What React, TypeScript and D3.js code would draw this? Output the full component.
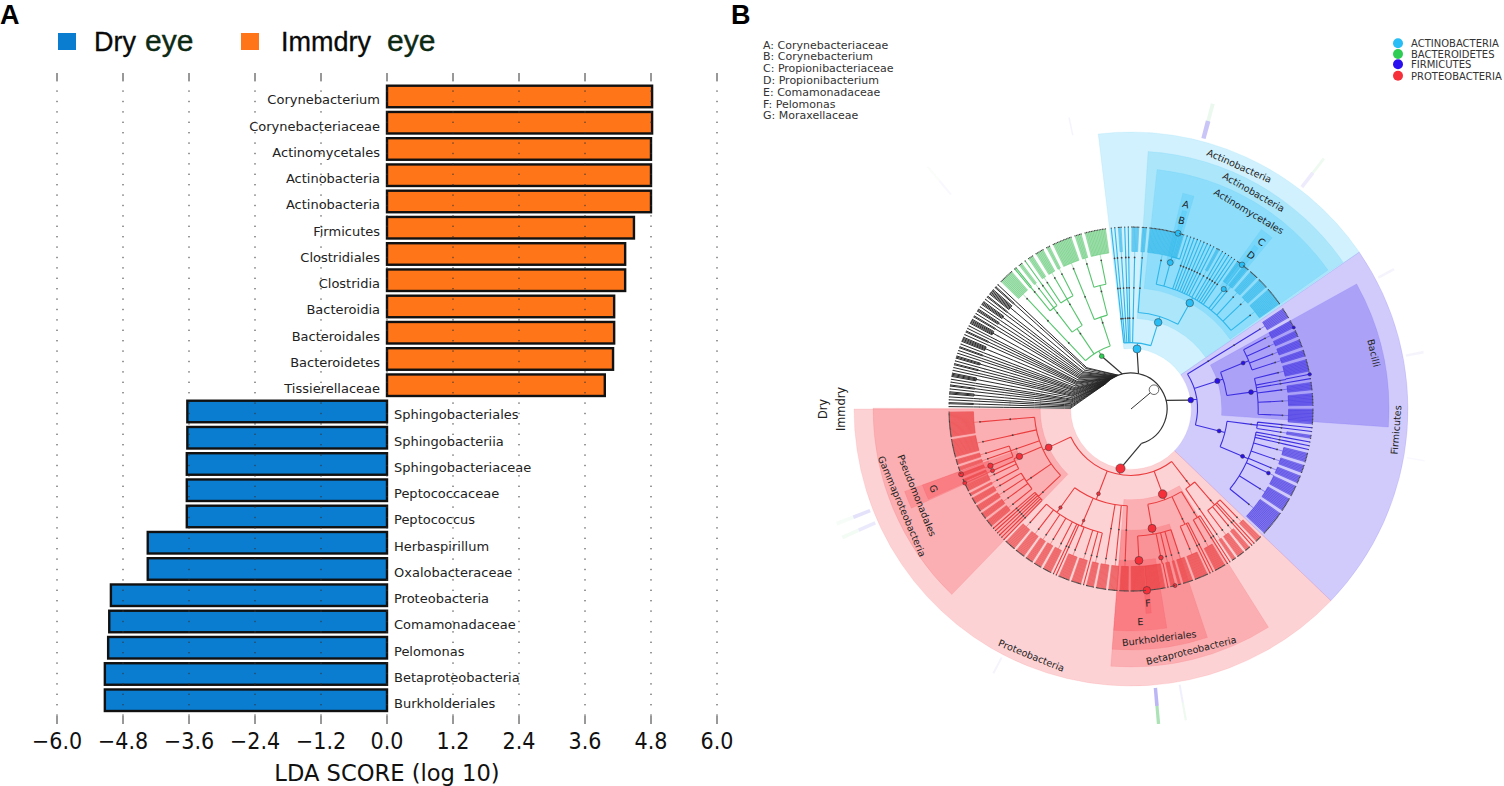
import React, { useEffect, useRef } from 'react';
import * as d3 from 'd3';

// Panel A: LDA scores, top to bottom
const taxa = [
  'Corynebacterium', 'Corynebacteriaceae', 'Actinomycetales', 'Actinobacteria', 'Actinobacteria',
  'Firmicutes', 'Clostridiales', 'Clostridia', 'Bacteroidia', 'Bacteroidales', 'Bacteroidetes',
  'Tissierellaceae', 'Sphingobacteriales', 'Sphingobacteriia', 'Sphingobacteriaceae', 'Peptococcaceae',
  'Peptococcus', 'Herbaspirillum', 'Oxalobacteraceae', 'Proteobacteria', 'Comamonadaceae', 'Pelomonas',
  'Betaproteobacteria', 'Burkholderiales',
];
const ldaScores = [
  4.82, 4.82, 4.8, 4.8, 4.8, 4.49, 4.33, 4.33, 4.13, 4.13, 4.11, 3.96,
  -3.63, -3.63, -3.64, -3.64, -3.64, -4.35, -4.35, -5.02, -5.05, -5.07, -5.13, -5.13,
];
const ldaTicks = [-6, -4.8, -3.6, -2.4, -1.2, 0, 1.2, 2.4, 3.6, 4.8, 6];

const cladeKey = [
  'A: Corynebacteriaceae', 'B: Corynebacterium', 'C: Propionibacteriaceae', 'D: Propionibacterium',
  'E: Comamonadaceae', 'F: Pelomonas', 'G: Moraxellaceae',
];
const phylumKey = ['ACTINOBACTERIA', 'BACTEROIDETES', 'FIRMICUTES', 'PROTEOBACTERIA'];
const phylumColors = ['#29bdf5', '#2ecc52', '#2a10ee', '#f5303a'];
const lineColors: Record<string, string> = { act: '#2fb6ea', bac: '#58c56e', fir: '#3d2ee0', pro: '#ea3d3f', none: '#2a2a2a' };

// Panel B: cladogram shape. An array is a branching node, a number is a family with that many genera.
const blackTree = [1, 2, 1, 1, 3, 1, 2, 1, 1, 4, 1, 1, 2, 1, 3, 1, 1, 2, 1, 5, 1, 2, 1, 1, 5, 2, 1, 3, 1, 4, 1, 2, 6, 2, 1];
const bacTree = [[[10]], [[2, 3, 1], [4, 6, 3]], [[13], [5, 14]]];
const actTree = [1, 1, 3, 1, 1, 6, [[4], [26, 1, 1, 1, 1, 1, 1, 1, 1, 1, 3, 1, 1, 1, 1, 1, 4, 5, 7, 8, 14]]];
const firTree = [
  [[8]],
  [[6, 5, 6, 5], [9, 1, 1, 6, 9, 11]],
  [[1, 1, 3], [1, 1, 1, 7, 6, 6, 8, 10, 18]],
];
const proTree = [
  [[6, 1, 1, 5, 7], [4]],
  [[1, 1, 10], [1, 1, 12], [9, 3, 5, 1, 30]],
  [[8], [8], [9], [7, 1, 9], [10, 1, 1, 8, 7, 7, 9, 10]],
  [[1, 1, 1, 1, 1, 1], [7, 6, 6, 6], [3, 7, 3], [4, 4, 5], [16], [22]],
];

const phylumSpans = [
  { key: 'none', tree: blackTree, start: 270.3, end: 313.5 },
  { key: 'bac', tree: bacTree, start: 313.8, end: 352.6 },
  { key: 'act', tree: actTree, start: 353.2, end: 415.2 },
  { key: 'fir', tree: firTree, start: 416, end: 493.5 },
  { key: 'pro', tree: proTree, start: 494.2, end: 629.5 },
];

// Biomarkers: phylum, tree level (1 phylum .. 5 genus), angle in degrees, dot size
const markers: [string, number, number, number][] = [
  ['act', 1, 365.7, 4], ['act', 2, 377.4, 3.8], ['act', 3, 389, 3.8], ['act', 4, 375, 3], ['act', 5, 375, 3],
  ['act', 4, 397.7, 2.6], ['act', 5, 397.6, 2.8],
  ['bac', 1, 331, 2.4],
  ['fir', 1, 441.5, 2.8], ['fir', 2, 432, 2.6], ['fir', 2, 464, 2], ['fir', 3, 427.7, 2], ['fir', 3, 442, 2.4],
  ['fir', 3, 473, 2], ['fir', 4, 475, 1.9], ['fir', 5, 423.4, 1.6], ['fir', 5, 439, 1.8],
  ['pro', 1, 550, 4.6], ['pro', 2, 605, 3.4], ['pro', 2, 519.6, 4.3], ['pro', 2, 561, 1.9], ['pro', 3, 530, 4],
  ['pro', 3, 575.6, 1.7], ['pro', 3, 563, 1.3], ['pro', 3, 607, 3.2], ['pro', 4, 537, 4], ['pro', 4, 528.6, 2.3],
  ['pro', 4, 608, 2.7], ['pro', 4, 606, 2], ['pro', 5, 535, 3.8], ['pro', 5, 526, 2], ['pro', 5, 609, 2.5], ['pro', 5, 606, 2],
];

// Shaded clades: phylum, tree level, start and end angle
const cladeWedges: [string, number, number, number][] = [
  ['act', 1, -6.8, 55.5], ['fir', 1, 55.5, 133.8], ['pro', 1, 133.8, 270],
  ['act', 2, 3.8, 55.3], ['fir', 2, 61, 94], ['pro', 2, 224, 270.2], ['pro', 2, 147.8, 184.5],
  ['act', 3, 6.2, 54.8], ['pro', 3, 245.7, 250], ['pro', 3, 161.5, 184.5],
  ['act', 4, 13.5, 16.5], ['act', 4, 36, 39.5], ['pro', 4, 246, 250], ['pro', 4, 170.7, 184.5],
  ['act', 5, 14.5, 15.8], ['act', 5, 37, 38.4], ['pro', 5, 174.3, 175.8],
];

// Rotated clade names: text, angle, radius
const cladeLabels: [string, number, number][] = [
  ['Actinobacteria', 24, 266], ['Actinobacteria', 29.5, 249], ['Actinomycetales', 30.8, 230],
  ['A', 15, 212], ['B', 15, 195], ['C', 38, 212], ['D', 38, 195],
  ['Bacilli', 77, 249], ['Firmicutes', 94.5, 266],
  ['Proteobacteria', 202, 266], ['Betaproteobacteria', 166, 249], ['Burkholderiales', 173, 231],
  ['E', 177.5, 213], ['F', 175, 195], ['G', 248, 213],
  ['Pseudomonadales', 248, 231], ['Gammaproteobacteria', 247, 249],
];

// Faint outer ring marks: angle, ring, width in degrees, phylum colour, opacity
const ringMarks: [number, number, number, string, number][] = [
  [15, 0, 0.9, 'fir', 0.28], [15, 1, 0.7, 'bac', 0.12], [37.6, 0, 0.7, 'fir', 0.09], [37.6, 1, 0.5, 'bac', 0.1],
  [248.7, 0, 0.7, 'fir', 0.14], [246, 0, 0.7, 'fir', 0.1], [248.7, 1, 0.7, 'bac', 0.05], [246, 1, 0.7, 'bac', 0.07],
  [175, 0, 0.7, 'fir', 0.35], [175, 1, 0.6, 'bac', 0.5], [170, 0, 0.4, 'fir', 0.08], [170, 1, 0.4, 'bac', 0.1],
  [207.5, 0, 0.4, 'fir', 0.05], [-12, 0, 0.3, 'fir', 0.05], [320, 0, 0.4, 'fir', 0.03], [320, 1, 0.4, 'bac', 0.03],
  [62, 0, 0.5, 'fir', 0.05], [79, 0, 0.5, 'fir', 0.05], [100, 0, 0.3, 'fir', 0.03],
];

const rad = Math.PI / 180;
const LEVEL_R = d3.scaleLinear().domain([0, 5]).range([30, 182]);
const WEDGE_OUTER = [0, 277, 258, 241, 222, 205];
const BRACKET = 6;

type Branch = { depth: number; children?: Branch[] };

function grow(spec: any, depth: number): Branch {
  if (Array.isArray(spec)) return { depth, children: spec.map(s => grow(s, depth + 1)) };
  if (depth < 4) return { depth, children: [grow(spec, depth + 1)] };
  return { depth, children: d3.range(spec).map(() => ({ depth: 5 })) };
}

const App: React.FC = () => {
  const svgRef = useRef<SVGSVGElement>(null);

  useEffect(() => {
    if (!svgRef.current) return;
    const svg = d3.select(svgRef.current);
    svg.selectAll('*').remove();
    const sans = 'DejaVu Sans';
    const arial = 'Liberation Sans';

    // ---- panel letters
    svg.append('text').attr('x', 0).attr('y', 24).text('A').attr('font-family', arial).attr('font-weight', 700).attr('font-size', 27);
    svg.append('text').attr('x', 731).attr('y', 24).text('B').attr('font-family', arial).attr('font-weight', 700).attr('font-size', 27);

    // ---- panel A legend
    const legend = [
      { name: 'Dry', color: '#0a7dd1', sq: 58, tx: 94, ex: 145 },
      { name: 'Immdry', color: '#ff7518', sq: 241, tx: 281, ex: 387 },
    ];
    legend.forEach(l => {
      svg.append('rect').attr('x', l.sq).attr('y', 33).attr('width', 18).attr('height', 17).attr('fill', l.color);
      svg.append('text').attr('x', l.tx).attr('y', 51).text(l.name).attr('font-family', arial).attr('font-size', 27).attr('fill', '#0a0a0a').attr('stroke', '#0a0a0a').attr('stroke-width', 0.3);
      svg.append('text').attr('x', l.ex).attr('y', 51).text('eye').attr('font-family', arial).attr('font-size', 30).attr('fill', '#0c2a14').attr('stroke', '#0c2a14').attr('stroke-width', 0.4);
    });

    // ---- panel A bars
    const x = d3.scaleLinear().domain([-6, 6]).range([57, 717]);
    const y = d3.scaleBand<number>().domain(d3.range(taxa.length)).range([85.7, 711]).paddingInner(0.18);

    svg.append('g').selectAll('rect').data(ldaScores).enter().append('rect')
      .attr('x', d => x(Math.min(d, 0)))
      .attr('y', (_, i) => y(i)!)
      .attr('width', d => Math.abs(x(d) - x(0)))
      .attr('height', y.bandwidth())
      .attr('fill', d => (d > 0 ? '#ff7518' : '#0a7dd1'))
      .attr('stroke', '#111')
      .attr('stroke-width', 2.4);

    svg.append('g').selectAll('text').data(taxa).enter().append('text')
      .attr('x', (_, i) => (ldaScores[i] > 0 ? x(0) - 7 : x(0) + 7))
      .attr('y', (_, i) => y(i)! + y.bandwidth() / 2 + 8)
      .attr('text-anchor', (_, i) => (ldaScores[i] > 0 ? 'end' : 'start'))
      .attr('font-family', sans).attr('font-size', 13).attr('fill', '#222')
      .text(d => d);

    const axis = svg.append('g');
    ldaTicks.forEach(t => {
      axis.append('line').attr('x1', x(t)).attr('x2', x(t)).attr('y1', 80).attr('y2', 716)
        .attr('stroke', '#333').attr('stroke-dasharray', '1.4 9').attr('stroke-width', 1);
      axis.append('line').attr('x1', x(t)).attr('x2', x(t)).attr('y1', 73).attr('y2', 80).attr('stroke', '#333');
      axis.append('line').attr('x1', x(t)).attr('x2', x(t)).attr('y1', 716).attr('y2', 724).attr('stroke', '#333');
      axis.append('text').attr('transform', `translate(${x(t)},749) scale(0.9,1)`).attr('text-anchor', 'middle')
        .attr('font-family', sans).attr('font-size', 23).attr('fill', '#111')
        .text(d3.format('.1f')(t).replace('-', '\u2212'));
    });
    svg.append('text').attr('x', 387).attr('y', 781).attr('text-anchor', 'middle')
      .attr('font-family', sans).attr('font-size', 22.6).attr('fill', '#111').text('LDA SCORE (log 10)');

    // ---- panel B keys
    svg.append('g').selectAll('text').data(cladeKey).enter().append('text')
      .attr('x', 763).attr('y', (_, i) => 48.5 + i * 11.8)
      .attr('font-family', sans).attr('font-size', 11).attr('fill', '#333').text(d => d);
    phylumKey.forEach((p, i) => {
      const cy = [43.3, 54, 64.3, 75.7][i];
      svg.append('circle').attr('cx', 1398).attr('cy', cy).attr('r', 5).attr('fill', phylumColors[i]);
      svg.append('text').attr('x', 1411).attr('y', cy + 3.8).attr('font-family', sans).attr('font-size', 10).attr('fill', '#333').text(p);
    });

    // ---- cladogram
    const g = svg.append('g').attr('transform', 'translate(1131,409)');
    const pt = (a: number, r: number) => d3.pointRadial(a * rad, r);

    const wedgeArc = d3.arc<any>();
    const wedges = g.append('g');
    cladeWedges.forEach(([key, level, a0, a1]) => {
      const idx = ['act', 'bac', 'fir', 'pro'].indexOf(key);
      wedges.append('path')
        .attr('d', wedgeArc({ innerRadius: LEVEL_R(level), outerRadius: WEDGE_OUTER[level], startAngle: a0 * rad, endAngle: a1 * rad }))
        .attr('fill', phylumColors[idx]).attr('fill-opacity', 0.22)
        .attr('stroke', phylumColors[idx]).attr('stroke-opacity', 0.15).attr('stroke-width', 0.6);
    });

    ringMarks.forEach(([a, ring, w, key, op]) => {
      g.append('path')
        .attr('d', wedgeArc({ innerRadius: 280 + ring * 18, outerRadius: 298 + ring * 18, startAngle: (a - w / 2) * rad, endAngle: (a + w / 2) * rad }))
        .attr('fill', lineColors[key]).attr('fill-opacity', op);
    });

    // lay every phylum out on its own span of the circle
    const fans = g.append('g');
    const links = g.append('g').attr('fill', 'none');
    const dots = g.append('g');

    const rootArcEnd = [-47, 163];
    const rootPath = d3.path();
    rootPath.arc(0, 0, 36, (rootArcEnd[0] - 90) * rad, (rootArcEnd[1] - 90) * rad);
    links.append('path').attr('d', rootPath.toString()).attr('stroke', '#333').attr('stroke-width', 1.2);
    const rootNode = pt(50, 30);
    links.append('line').attr('x1', 0).attr('y1', 0).attr('x2', rootNode[0]).attr('y2', rootNode[1]).attr('stroke', '#333');

    const attach: Record<string, number> = { bac: 346, act: 372, fir: 436, pro: 523 };
    const attachBlack = d3.scaleLinear().domain([270, 313.5]).range([313, 340]);

    phylumSpans.forEach(({ key, tree, start, end }) => {
      const color = lineColors[key];
      const isBlack = key === 'none';
      const rootHier = d3.hierarchy(grow(tree, isBlack ? 0 : 1));
      d3.cluster<Branch>()
        .size([end - start, 1])
        .separation((a, b) => (a.parent === b.parent ? 1 : 2.6))(rootHier);
      const nodes = rootHier.descendants() as any[];
      nodes.forEach(n => {
        n.angle = start + n.x;
        n.size = 0;
      });
      markers.filter(m => m[0] === key).forEach(([, level, angle, size]) => {
        const pick = d3.least(nodes.filter(n => n.data.depth === level && !n.size), n => Math.abs(n.angle - angle));
        if (pick) {
          pick.angle = angle;
          pick.size = size;
        }
      });

      nodes.forEach(n => {
        const r = LEVEL_R(n.data.depth);
        if (n.children && n.data.depth > 0) {
          const rb = r + BRACKET;
          const isFan = n.data.depth === 4 && n.children.length > 2;
          const angles = [n.angle, ...n.children.map((c: any) => c.angle)];
          const [lo, hi] = d3.extent(angles) as [number, number];
          const kids = n.children.map((c: any) => c.angle) as number[];
          if (isFan && !isBlack) {
            fans.append('path')
              .attr('d', wedgeArc({ innerRadius: rb, outerRadius: 182, startAngle: d3.min(kids)! * rad, endAngle: d3.max(kids)! * rad }))
              .attr('fill', color).attr('fill-opacity', 0.5);
          }
          const p = d3.path();
          const from = pt(n.angle, r);
          const to = pt(n.angle, rb);
          p.moveTo(from[0], from[1]);
          p.lineTo(to[0], to[1]);
          const s = pt(lo, rb);
          p.moveTo(s[0], s[1]);
          p.arc(0, 0, rb, (lo - 90) * rad, (hi - 90) * rad);
          n.children.forEach((c: any) => {
            const a = pt(c.angle, rb);
            const b = pt(c.angle, LEVEL_R(c.data.depth));
            p.moveTo(a[0], a[1]);
            p.lineTo(b[0], b[1]);
          });
          links.append('path').attr('d', p.toString()).attr('stroke', color)
            .attr('stroke-width', isBlack ? 1 : isFan ? 0.7 : 1.1)
            .attr('stroke-opacity', isFan && !isBlack ? 0.65 : 1);
        }
        // first tree level hangs off the root arc
        if (n.data.depth === 1) {
          const attachAt = isBlack ? attachBlack(n.angle) : attach[key];
          const a = pt(attachAt, 36);
          const b = pt(n.angle, r);
          links.append('line').attr('x1', a[0]).attr('y1', a[1]).attr('x2', b[0]).attr('y2', b[1])
            .attr('stroke', isBlack ? '#222' : '#333').attr('stroke-width', isBlack ? 0.9 : 1.2);
        }
      });

      nodes.filter(n => n.data.depth > 0).forEach(n => {
        const [cx, cy] = pt(n.angle, LEVEL_R(n.data.depth));
        const enriched = n.size > 0;
        dots.append('circle').attr('cx', cx).attr('cy', cy)
          .attr('r', enriched ? n.size : n.data.depth === 5 ? 0.65 : isBlack ? 0.5 : 0.9)
          .attr('fill', enriched ? phylumColors[['act', 'bac', 'fir', 'pro'].indexOf(key)] : '#444')
          .attr('stroke', enriched ? '#333' : 'none').attr('stroke-width', 0.5);
      });
    });

    g.append('circle').attr('cx', rootNode[0]).attr('cy', rootNode[1]).attr('r', 4.8).attr('fill', '#fff').attr('stroke', '#444').attr('stroke-width', 0.8);

    cladeLabels.forEach(([name, angle, r]) => {
      const [lx, ly] = pt(angle, r);
      const norm = ((angle % 360) + 360) % 360;
      const rot = norm > 90 && norm < 270 ? norm - 180 : norm;
      g.append('text').attr('transform', `translate(${lx},${ly}) rotate(${rot})`)
        .attr('text-anchor', 'middle').attr('dy', '0.35em')
        .attr('font-family', sans).attr('font-size', 9.6).attr('fill', '#222').text(name);
    });

    ['Dry', 'Immdry'].forEach((name, i) => {
      g.append('text').attr('transform', `translate(${-308 + i * 18},0) rotate(-90)`)
        .attr('text-anchor', 'middle').attr('dy', '0.35em')
        .attr('font-family', sans).attr('font-size', 11.4).attr('fill', '#222').text(name);
    });
  }, []);

  return <svg ref={svgRef} width={1504} height={786} style={{ position: 'absolute', left: 0, top: 0, display: 'block', background: '#fff' }} />;
};

export default App;
